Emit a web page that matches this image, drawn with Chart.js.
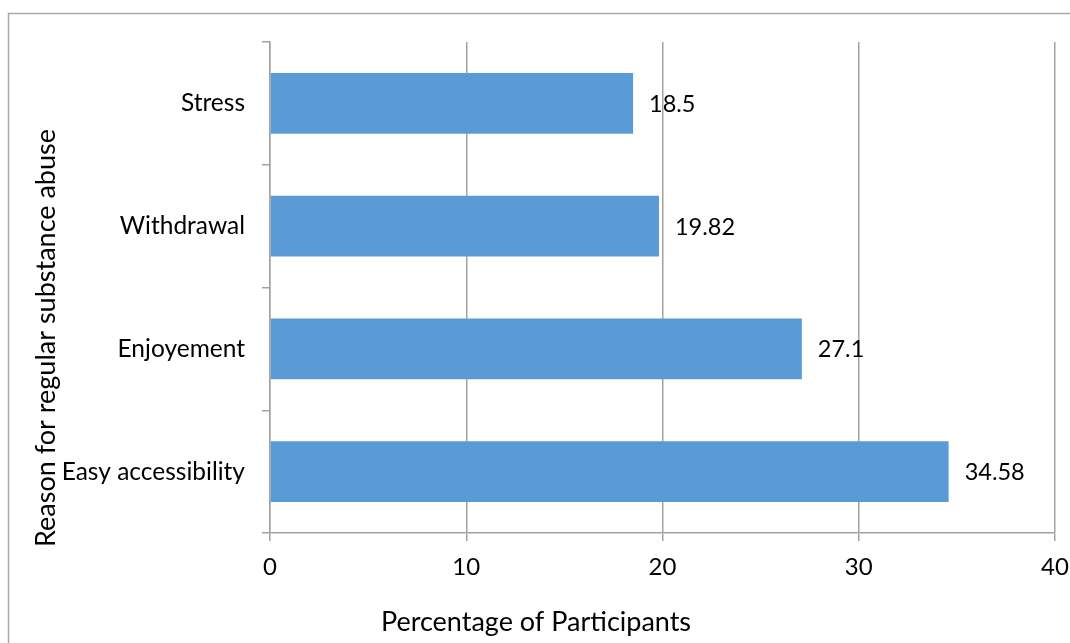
<!DOCTYPE html>
<html>
<head>
<meta charset="utf-8">
<script src="https://cdn.jsdelivr.net/npm/chart.js@4.4.1/dist/chart.umd.min.js"></script>
<style>
  html, body { margin: 0; padding: 0; background: #ffffff; }
  #wrap { width: 1070px; height: 643px; position: relative; }
</style>
</head>
<body>
<div id="wrap"><canvas id="chart" width="1070" height="643"></canvas></div>
<script>
// Reasons for regular substance abuse, top to bottom
const reasons = ['Stress', 'Withdrawal', 'Enjoyement', 'Easy accessibility'];
// Percentage of participants giving each reason
const percentages = [18.5, 19.82, 27.1, 34.58];
// Value-axis tick values
const xTicks = [0, 10, 20, 30, 40];

const xTitle = 'Percentage of Participants';
const yTitle = 'Reason for regular substance abuse';

const FONT = 'Lato, "Open Sans", sans-serif';
const GRID = '#a3a3a3';

// Outer chart frame
const framePlugin = {
  id: 'frame',
  beforeDraw(chart) {
    const ctx = chart.ctx;
    ctx.save();
    ctx.fillStyle = '#ffffff';
    ctx.fillRect(0, 0, chart.width, chart.height);
    ctx.strokeStyle = '#a8a8a8';
    ctx.lineWidth = 1.5;
    ctx.strokeRect(8.5, 13.5, chart.width + 20, chart.height + 20);
    ctx.restore();
  }
};

// Axis titles, centred on the chart frame rather than the plot area
const titlesPlugin = {
  id: 'axisTitles',
  afterDraw(chart) {
    const ctx = chart.ctx;
    ctx.save();
    ctx.fillStyle = '#000000';
    ctx.font = '27px ' + FONT;
    ctx.textAlign = 'center';
    ctx.textBaseline = 'alphabetic';
    ctx.fillText(xTitle, 536, 631);
    ctx.translate(55, 338);
    ctx.rotate(-Math.PI / 2);
    ctx.fillText(yTitle, 0, 0);
    ctx.restore();
  }
};

// Value labels to the right of each bar
const valueLabels = {
  id: 'valueLabels',
  afterDatasetsDraw(chart) {
    const ctx = chart.ctx;
    const meta = chart.getDatasetMeta(0);
    ctx.save();
    ctx.fillStyle = '#000000';
    ctx.font = '23.5px ' + FONT;
    ctx.textAlign = 'left';
    ctx.textBaseline = 'middle';
    meta.data.forEach((bar, i) => {
      ctx.fillText(String(percentages[i]), bar.x + 16, bar.y + 1);
    });
    ctx.restore();
  }
};

new Chart(document.getElementById('chart'), {
  type: 'bar',
  data: {
    labels: reasons,
    datasets: [{
      data: percentages,
      backgroundColor: '#5b9bd5',
      borderWidth: 0,
      barPercentage: 0.493,
      categoryPercentage: 1.0
    }]
  },
  options: {
    indexAxis: 'y',
    responsive: false,
    animation: false,
    layout: { padding: { left: 0, top: 42, right: 15, bottom: 0 } },
    plugins: {
      legend: { display: false },
      tooltip: { enabled: false },
      title: { display: false }
    },
    scales: {
      x: {
        type: 'linear',
        min: xTicks[0],
        max: xTicks[xTicks.length - 1],
        afterBuildTicks(scale) {
          scale.ticks = xTicks.map(v => ({ value: v }));
        },
        afterFit(scale) {
          scale.height = 110;
          scale.paddingLeft = 0;
          scale.paddingRight = 0;
        },
        grid: {
          color: GRID,
          lineWidth: 1.5,
          drawTicks: true,
          tickLength: 8,
          tickColor: GRID
        },
        border: { color: GRID, width: 1.5 },
        ticks: {
          color: '#000000',
          font: { family: FONT, size: 24 },
          padding: 12
        }
      },
      y: {
        type: 'category',
        afterFit(scale) {
          scale.width = 270;
          scale.paddingTop = 0;
          scale.paddingBottom = 0;
        },
        grid: {
          offset: true,
          drawOnChartArea: false,
          drawTicks: true,
          tickLength: 8,
          color: GRID,
          tickColor: GRID,
          lineWidth: 1.5
        },
        border: { color: GRID, width: 1.5 },
        ticks: {
          color: '#000000',
          font: { family: FONT, size: 24.5 },
          padding: 17
        }
      }
    }
  },
  plugins: [framePlugin, valueLabels, titlesPlugin]
});
</script>
</body>
</html>
